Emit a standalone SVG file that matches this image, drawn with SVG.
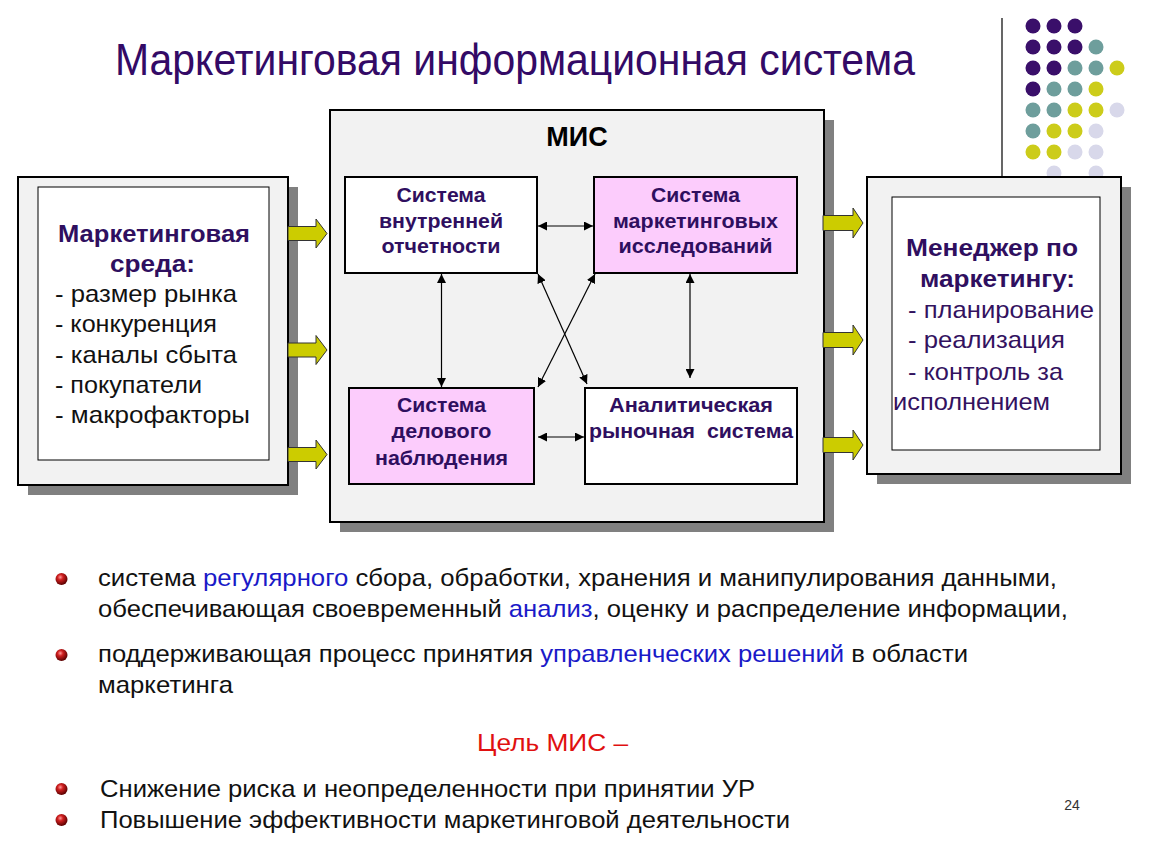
<svg xmlns="http://www.w3.org/2000/svg" width="1150" height="864" viewBox="0 0 1150 864">
<defs>
<style>
.sans{font-family:"Liberation Sans",Arial,sans-serif}
.bx{font-family:"Liberation Sans",Arial,sans-serif;font-weight:bold;font-size:20.5px;fill:#2f0f5f;text-anchor:middle}
.env{font-family:"Liberation Sans",Arial,sans-serif;font-size:24px;fill:#111}
.mgr{font-family:"Liberation Sans",Arial,sans-serif;font-size:24px;fill:#33125f}
.hd{font-weight:bold;fill:#2f0f5f}
.body{font-family:"Liberation Sans",Arial,sans-serif;font-size:24px;fill:#111}
.blue{fill:#1a1ac8}
.outer{fill:#f2f2f2;stroke:#000;stroke-width:2}
.shadow{fill:#808080}
.inner{fill:#fff;stroke:#000;stroke-width:1}
.node{stroke:#000;stroke-width:2}
.conn{stroke:#000;stroke-width:1.2;fill:none;marker-start:url(#ah);marker-end:url(#ah)}
.yarrow{fill:#cccc00;stroke:#333;stroke-width:1}
.pu{fill:#3a0f6a}.te{fill:#6e9e9c}.ye{fill:#cccc1a}.la{fill:#d8d8ea}
</style>
<marker id="ah" viewBox="0 0 10 10" refX="10" refY="5" markerWidth="9" markerHeight="9" markerUnits="userSpaceOnUse" orient="auto-start-reverse">
<path d="M0,0 L10,5 L0,10 z" fill="#000"/>
</marker>
<radialGradient id="ball" cx="0.4" cy="0.35" r="0.65">
<stop offset="0" stop-color="#ff9a9a"/>
<stop offset="0.35" stop-color="#d02020"/>
<stop offset="1" stop-color="#5a0000"/>
</radialGradient>
</defs>
<rect width="1150" height="864" fill="#fff"/>

<!-- decorative dots -->
<g id="dots">
<line x1="1002" y1="18" x2="1002" y2="176" stroke="#000" stroke-width="1.2"/>
<circle class="pu" cx="1033" cy="26" r="7.5"/><circle class="pu" cx="1054" cy="26" r="7.5"/><circle class="pu" cx="1075" cy="26" r="7.5"/>
<circle class="pu" cx="1033" cy="47" r="7.5"/><circle class="pu" cx="1054" cy="47" r="7.5"/><circle class="pu" cx="1075" cy="47" r="7.5"/><circle class="te" cx="1096" cy="47" r="7.5"/>
<circle class="pu" cx="1033" cy="68" r="7.5"/><circle class="pu" cx="1054" cy="68" r="7.5"/><circle class="te" cx="1075" cy="68" r="7.5"/><circle class="te" cx="1096" cy="68" r="7.5"/><circle class="ye" cx="1117" cy="68" r="7.5"/>
<circle class="pu" cx="1033" cy="89" r="7.5"/><circle class="te" cx="1054" cy="89" r="7.5"/><circle class="te" cx="1075" cy="89" r="7.5"/><circle class="ye" cx="1096" cy="89" r="7.5"/>
<circle class="te" cx="1033" cy="110" r="7.5"/><circle class="te" cx="1054" cy="110" r="7.5"/><circle class="ye" cx="1075" cy="110" r="7.5"/><circle class="ye" cx="1096" cy="110" r="7.5"/><circle class="la" cx="1117" cy="110" r="7.5"/>
<circle class="te" cx="1033" cy="131" r="7.5"/><circle class="ye" cx="1054" cy="131" r="7.5"/><circle class="ye" cx="1075" cy="131" r="7.5"/><circle class="la" cx="1096" cy="131" r="7.5"/>
<circle class="ye" cx="1033" cy="152" r="7.5"/><circle class="ye" cx="1054" cy="152" r="7.5"/><circle class="la" cx="1075" cy="152" r="7.5"/><circle class="la" cx="1096" cy="152" r="7.5"/>
<circle class="la" cx="1054" cy="173" r="7.5"/><circle class="la" cx="1096" cy="173" r="7.5"/>
</g>

<text class="sans" x="115" y="75" font-size="45" fill="#330a66" textLength="800" lengthAdjust="spacingAndGlyphs">Маркетинговая информационная система</text>

<!-- left box -->
<g id="env">
<rect class="shadow" x="28" y="187" width="270" height="308"/>
<rect class="outer" x="18" y="177" width="270" height="308"/>
<rect class="inner" x="38" y="187" width="231" height="273"/>
<text class="env hd" x="154" y="242" text-anchor="middle" textLength="192" lengthAdjust="spacingAndGlyphs">Маркетинговая</text>
<text class="env hd" x="152.5" y="272" text-anchor="middle" textLength="85" lengthAdjust="spacingAndGlyphs">среда:</text>
<text class="env" x="55" y="302" textLength="182" lengthAdjust="spacingAndGlyphs">- размер рынка</text>
<text class="env" x="55" y="332" textLength="162" lengthAdjust="spacingAndGlyphs">- конкуренция</text>
<text class="env" x="55" y="363" textLength="182" lengthAdjust="spacingAndGlyphs">- каналы сбыта</text>
<text class="env" x="55" y="393" textLength="147" lengthAdjust="spacingAndGlyphs">- покупатели</text>
<text class="env" x="55" y="423" textLength="195" lengthAdjust="spacingAndGlyphs">- макрофакторы</text>
</g>

<!-- MIS box -->
<g id="mis">
<rect class="shadow" x="340" y="120" width="494" height="412"/>
<rect class="outer" x="330" y="110" width="494" height="412"/>
<text class="sans" x="577" y="146" font-size="27" font-weight="bold" fill="#000" text-anchor="middle">МИС</text>
</g>

<g id="n1">
<rect class="node" x="345" y="177" width="192" height="96" fill="#fff"/>
<text class="bx" x="441" y="202" textLength="89" lengthAdjust="spacingAndGlyphs">Система</text>
<text class="bx" x="441" y="228" textLength="124" lengthAdjust="spacingAndGlyphs">внутренней</text>
<text class="bx" x="441" y="253" textLength="119" lengthAdjust="spacingAndGlyphs">отчетности</text>
</g>
<g id="n2">
<rect class="node" x="594" y="177" width="203" height="96" fill="#fcccfc"/>
<text class="bx" x="695.5" y="202" textLength="89" lengthAdjust="spacingAndGlyphs">Система</text>
<text class="bx" x="695.5" y="228" textLength="165" lengthAdjust="spacingAndGlyphs">маркетинговых</text>
<text class="bx" x="695.5" y="253" textLength="154" lengthAdjust="spacingAndGlyphs">исследований</text>
</g>
<g id="n3">
<rect class="node" x="349" y="388" width="185" height="96" fill="#fcccfc"/>
<text class="bx" x="441.5" y="412" textLength="89" lengthAdjust="spacingAndGlyphs">Система</text>
<text class="bx" x="441.5" y="438" textLength="100" lengthAdjust="spacingAndGlyphs">делового</text>
<text class="bx" x="441.5" y="465" textLength="133" lengthAdjust="spacingAndGlyphs">наблюдения</text>
</g>
<g id="n4">
<rect class="node" x="585" y="388" width="212" height="96" fill="#fff"/>
<text class="bx" x="691" y="412" textLength="164" lengthAdjust="spacingAndGlyphs">Аналитическая</text>
<text class="bx" x="691" y="438" textLength="204" lengthAdjust="spacingAndGlyphs" xml:space="preserve">рыночная  система</text>
</g>

<!-- right box -->
<g id="mgr">
<rect class="shadow" x="877" y="187" width="254" height="297"/>
<rect class="outer" x="867" y="177" width="254" height="297"/>
<rect class="inner" x="892" y="197" width="208" height="253"/>
<text class="mgr hd" x="992" y="256" text-anchor="middle" textLength="172" lengthAdjust="spacingAndGlyphs">Менеджер по</text>
<text class="mgr hd" x="997.5" y="287" text-anchor="middle" textLength="155" lengthAdjust="spacingAndGlyphs">маркетингу:</text>
<text class="mgr" x="908" y="318" textLength="186" lengthAdjust="spacingAndGlyphs">- планирование</text>
<text class="mgr" x="908" y="348" textLength="157" lengthAdjust="spacingAndGlyphs">- реализация</text>
<text class="mgr" x="908" y="380" textLength="155" lengthAdjust="spacingAndGlyphs">- контроль за</text>
<text class="mgr" x="893" y="410" textLength="157" lengthAdjust="spacingAndGlyphs">исполнением</text>
</g>

<g id="connectors">
<line class="conn" x1="538" y1="226" x2="593" y2="226"/>
<line class="conn" x1="441.5" y1="274" x2="441.5" y2="387"/>
<line class="conn" x1="690" y1="274" x2="690" y2="378"/>
<line class="conn" x1="538" y1="437" x2="584" y2="437"/>
<line class="conn" x1="538" y1="274" x2="587" y2="384"/>
<line class="conn" x1="595" y1="274" x2="538" y2="387"/>
<polygon class="yarrow" points="288,226.5 316,226.5 316,219 327,233.5 316,248 316,240.5 288,240.5"/>
<polygon class="yarrow" points="288,343 316,343 316,335.5 327,350 316,364.5 316,357 288,357"/>
<polygon class="yarrow" points="288,447.5 316,447.5 316,440 327,454.5 316,469 316,461.5 288,461.5"/>
<polygon class="yarrow" points="823,215.5 853,215.5 853,208 863,223 853,238 853,230.5 823,230.5"/>
<polygon class="yarrow" points="823,332.5 853,332.5 853,325 863,340 853,355 853,347.5 823,347.5"/>
<polygon class="yarrow" points="823,437.5 853,437.5 853,430 863,445 853,460 853,452.5 823,452.5"/>
</g>

<!-- bullets -->
<g id="bullets">
<circle cx="61.5" cy="579" r="6" fill="url(#ball)"/>
<circle cx="61.5" cy="655" r="6" fill="url(#ball)"/>
<circle cx="61.5" cy="789" r="6" fill="url(#ball)"/>
<circle cx="61.5" cy="820" r="6" fill="url(#ball)"/>
<text class="body" x="98" y="586" textLength="959" lengthAdjust="spacingAndGlyphs">система <tspan class="blue">регулярного</tspan> сбора, обработки, хранения и манипулирования данными,</text>
<text class="body" x="98" y="617" textLength="970" lengthAdjust="spacingAndGlyphs">обеспечивающая своевременный <tspan class="blue">анализ</tspan>, оценку и распределение информации,</text>
<text class="body" x="98" y="662" textLength="870" lengthAdjust="spacingAndGlyphs">поддерживающая процесс принятия <tspan class="blue">управленческих решений</tspan> в области</text>
<text class="body" x="98" y="693" textLength="135" lengthAdjust="spacingAndGlyphs">маркетинга</text>
<text class="body" x="477" y="751" style="fill:#e01010" textLength="151" lengthAdjust="spacingAndGlyphs">Цель МИС –</text>
<text class="body" x="100" y="797" textLength="655" lengthAdjust="spacingAndGlyphs">Снижение риска и неопределенности при принятии УР</text>
<text class="body" x="100" y="828" textLength="690" lengthAdjust="spacingAndGlyphs">Повышение эффективности маркетинговой деятельности</text>
<text class="sans" x="1072" y="810" font-size="14" fill="#333" text-anchor="middle">24</text>
</g>
</svg>
